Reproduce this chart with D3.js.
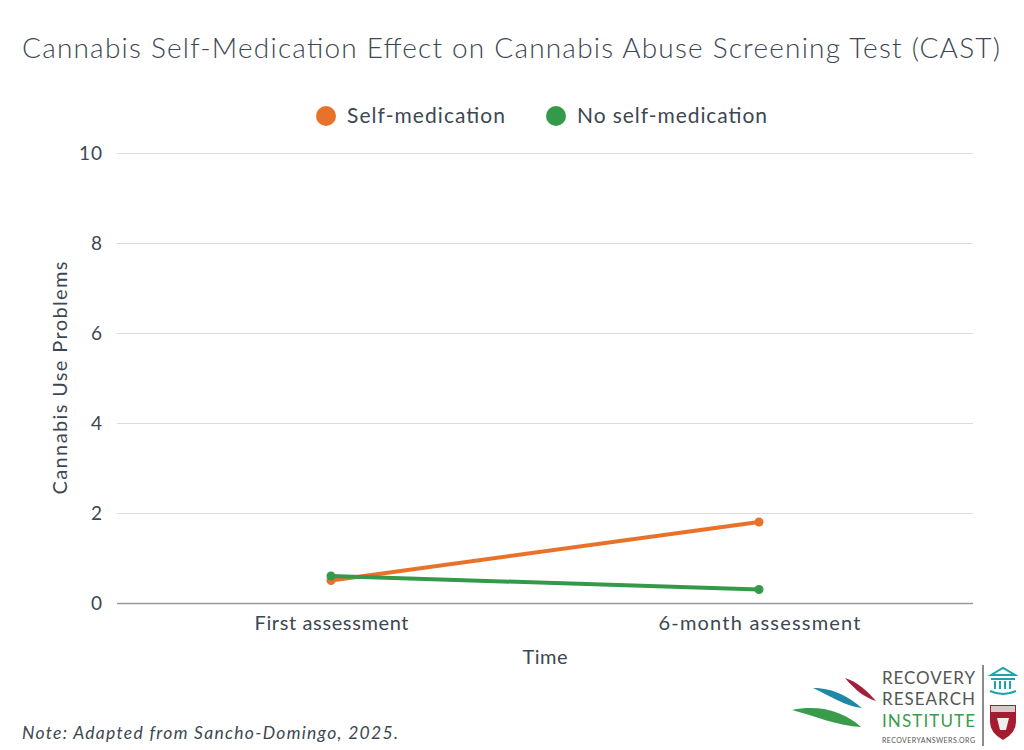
<!DOCTYPE html>
<html><head><meta charset="utf-8">
<script src="https://cdn.jsdelivr.net/npm/d3@7"></script>
<style>
body{margin:0;background:#fff;}
text{font-family:"Lato","Open Sans",sans-serif;fill:#3d4752;}
</style></head>
<body>
<svg id="chart" width="1024" height="750"></svg>
<script>
const categories = ["First assessment", "6-month assessment"];
const seriesNames = ["Self-medication", "No self-medication"];
const selfMedication = [0.5, 1.8];
const noSelfMedication = [0.6, 0.3];
const yTicks = [0, 2, 4, 6, 8, 10];
const colors = ["#e8722a", "#349a49"];

const svg = d3.select("#chart");
const margin = {left:117, right:973, top:153, bottom:603};

const x = d3.scalePoint().domain(categories).range([margin.left, margin.right]).padding(0.5);
const y = d3.scaleLinear().domain([0, 10]).range([margin.bottom, margin.top]);

// title
svg.append("text").attr("x", 22).attr("y", 58)
  .style("font-size","28px").style("font-weight","300").attr("textLength",978).attr("lengthAdjust","spacing")
  .text("Cannabis Self-Medication Effect on Cannabis Abuse Screening Test (CAST)");

// gridlines
const yAxis = d3.axisLeft(y).tickValues(yTicks).tickSize(-(margin.right-margin.left)).tickPadding(14);
const gy = svg.append("g").attr("transform",`translate(${margin.left},0)`).call(yAxis);
gy.select(".domain").remove();
gy.selectAll(".tick line").attr("stroke","#dcdcdc").attr("stroke-width",1);
gy.selectAll(".tick text").style("font-size","19px").attr("fill","#3d4752").style("font-family","Lato")
  .attr("dy","0.36em").style("letter-spacing","1px");
gy.selectAll(".tick").filter(d=>d===0).select("line").attr("stroke","#9a9a9a").attr("stroke-width",1.3);

// x axis
const xWidths = [154, 202];
const gx = svg.append("g").attr("transform",`translate(0,${margin.bottom})`).call(d3.axisBottom(x).tickSize(0).tickPadding(13));
gx.select(".domain").remove();
gx.selectAll(".tick text").style("font-size","20px").attr("fill","#3d4752").style("font-family","Lato")
  .attr("textLength",(d,i)=>xWidths[i]).attr("lengthAdjust","spacing");

// axis titles
svg.append("text").attr("x",545).attr("y",664).attr("text-anchor","middle").style("font-size","20px")
  .attr("textLength",45).attr("lengthAdjust","spacing").text("Time");
svg.append("text").attr("transform","translate(67,378) rotate(-90)").attr("text-anchor","middle").style("font-size","20px")
  .attr("textLength",233).attr("lengthAdjust","spacing").text("Cannabis Use Problems");

// lines
const series = [selfMedication, noSelfMedication];
const line = d3.line().x((d,i)=>x(categories[i])).y(d=>y(d));
series.forEach((s,k)=>{
  svg.append("path").datum(s).attr("d",line).attr("fill","none").attr("stroke",colors[k]).attr("stroke-width",4);
  svg.selectAll(null).data(s).enter().append("circle")
    .attr("cx",(d,i)=>x(categories[i])).attr("cy",d=>y(d)).attr("r",4.5).attr("fill",colors[k]);
});

// legend
const legendX = [326, 556];
const legendW = [158, 190];
seriesNames.forEach((n,k)=>{
  svg.append("circle").attr("cx",legendX[k]).attr("cy",116).attr("r",10).attr("fill",colors[k]);
  svg.append("text").attr("x",legendX[k]+21).attr("y",122.5).style("font-size","21px")
    .attr("textLength",legendW[k]).attr("lengthAdjust","spacing").text(n);
});

// note
svg.append("text").attr("x",22).attr("y",739).style("font-size","17.5px").style("font-style","italic")
  .attr("textLength",376).attr("lengthAdjust","spacing").text("Note: Adapted from Sancho-Domingo, 2025.");

// logo
const logo = svg.append("g");
logo.append("path").attr("d","M845,678 C858,682 866,690 876,701 C866,698 857,692 845,678 Z").attr("fill","#a3203a");
logo.append("path").attr("d","M813,688 C835,688 850,698 862,708 C845,706 830,696 813,688 Z").attr("fill","#1e88a6");
logo.append("path").attr("d","M792,710 C820,704 845,712 861,727 C838,726 815,716 792,710 Z").attr("fill","#3a9b4a");
logo.append("text").attr("x",882).attr("y",684).style("font-size","17px").attr("textLength",93).style("fill","#555").text("RECOVERY");
logo.append("text").attr("x",882).attr("y",705).style("font-size","17px").attr("textLength",93).style("fill","#555").text("RESEARCH");
logo.append("text").attr("x",882).attr("y",727).style("font-size","17px").attr("textLength",93).style("fill","#3a9b4a").text("INSTITUTE");
logo.append("text").attr("x",882).attr("y",743).style("font-size","7px").attr("textLength",93).style("fill","#555").text("RECOVERYANSWERS.ORG");
logo.append("line").attr("x1",983).attr("x2",983).attr("y1",665).attr("y2",746).attr("stroke","#666").attr("stroke-width",1.5);
const b = logo.append("g").attr("fill","none").attr("stroke","#1fa3a8").attr("stroke-width",2);
b.append("path").attr("d","M991,675 L1003,668 L1015,675 Z");
b.append("line").attr("x1",991).attr("x2",1015).attr("y1",679).attr("y2",679);
[995,1000,1005,1010].forEach(xx=>b.append("line").attr("x1",xx).attr("x2",xx).attr("y1",681).attr("y2",689));
b.append("path").attr("d","M990,691 Q1003,697 1016,691");
logo.append("path").attr("d","M990,705 L1016,705 L1016,722 Q1016,733 1003,740 Q990,733 990,722 Z").attr("fill","#a51c30");
logo.append("rect").attr("x",991).attr("y",706).attr("width",24).attr("height",6).attr("fill","#d8c8c8");
logo.append("path").attr("d","M997,718 L1009,718 L1006,730 L1000,730 Z").attr("fill","#eee");
</script>
</body></html>
